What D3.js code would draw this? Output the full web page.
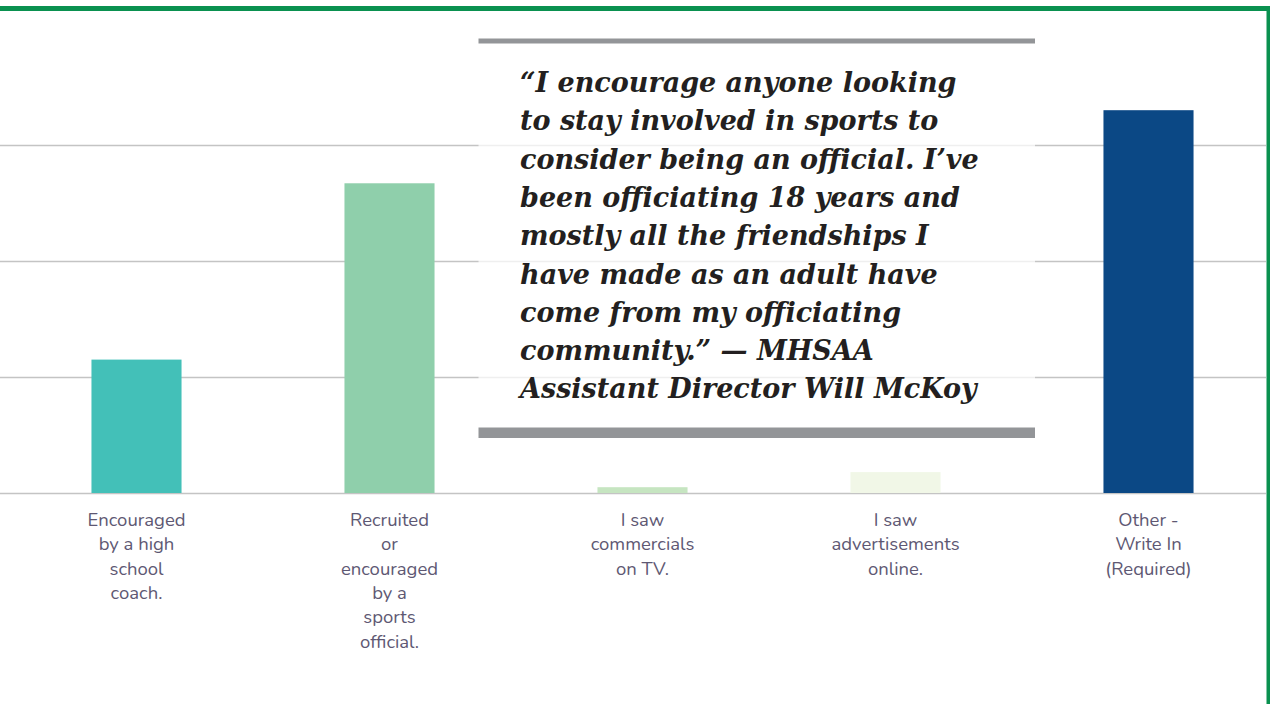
<!DOCTYPE html>
<html>
<head>
<meta charset="utf-8">
<script src="https://cdn.jsdelivr.net/npm/d3@7"></script>
<style>
  html, body { margin: 0; padding: 0; background: #fff; }
  svg { display: block; }
  .cat-label { font-family: Nunito, Lato, "Open Sans", sans-serif; font-size: 18.5px; fill: #5e5873; }
  .quote { font-family: "DejaVu Serif", serif; font-style: italic; font-weight: bold; font-size: 27px; fill: #231f20; }
</style>
</head>
<body>
<svg id="chart" width="1272" height="704"></svg>
<script>
// survey answers, left to right
const categories = ["coach", "official", "tv", "online", "other"];
const categoryLines = [
  ["Encouraged", "by a high", "school", "coach."],
  ["Recruited", "or", "encouraged", "by a", "sports", "official."],
  ["I saw", "commercials", "on TV."],
  ["I saw", "advertisements", "online."],
  ["Other -", "Write In", "(Required)"]
];
// share of responses (%)
const values = [11.5, 26.7, 0.5, 1.8, 33.0];
const gridTicks = [0, 10, 20, 30];

const quoteLines = [
  "\u201cI encourage anyone looking",
  "to stay involved in sports to",
  "consider being an official. I\u2019ve",
  "been officiating 18 years and",
  "mostly all the friendships I",
  "have made as an adult have",
  "come from my officiating",
  "community.\u201d \u2014 MHSAA",
  "Assistant Director Will McKoy"
];

const width = 1272, height = 704;
const svg = d3.select('svg#chart');

const xScale = d3.scaleBand()
  .domain(categories)
  .range([10, 1275])
  .paddingInner(0.644)
  .paddingOuter(0.322);

const yScale = d3.scaleLinear()
  .domain([0, 40])
  .range([493, 29]);

const colorScale = d3.scaleOrdinal()
  .domain(categories)
  .range(["#43c0b8", "#8fcfab", "#c6e5c1", "#f1f7e7", "#0b4885"]);

// gridlines (no tick labels in the original)
const yAxis = d3.axisLeft(yScale)
  .tickValues(gridTicks)
  .tickSize(-1266)
  .tickFormat('');

const yAxisG = svg.append('g')
  .attr('class', 'y-axis-g')
  .call(yAxis);
yAxisG.select('.domain').remove();
yAxisG.selectAll('.tick line')
  .attr('stroke', '#c4c4c4')
  .attr('stroke-width', 1.6);

// bars
svg.append('g').selectAll('rect')
  .data(categories)
  .enter()
  .append('rect')
  .attr('x', d => xScale(d))
  .attr('width', xScale.bandwidth())
  .attr('y', (d, i) => yScale(values[i]))
  .attr('height', (d, i) => yScale(0) - yScale(values[i]))
  .attr('fill', d => colorScale(d));

// wrapped category labels under the baseline
const labels = svg.append('g').selectAll('text')
  .data(categories)
  .enter()
  .append('text')
  .attr('class', 'cat-label')
  .attr('text-anchor', 'middle')
  .attr('x', d => xScale(d) + xScale.bandwidth() / 2)
  .attr('y', 526);
labels.each(function(d, i) {
  d3.select(this).selectAll('tspan')
    .data(categoryLines[i])
    .enter()
    .append('tspan')
    .attr('x', xScale(d) + xScale.bandwidth() / 2)
    .attr('y', (t, j) => 526 + j * 24.3)
    .text(t => t);
});

// pull quote laid over the chart
const quoteG = svg.append('g');
quoteG.append('rect')
  .attr('x', 478.5).attr('y', 43)
  .attr('width', 556.5).attr('height', 385)
  .attr('fill', '#fff').attr('opacity', 0.72);
quoteG.append('rect')
  .attr('x', 478.5).attr('y', 38.5)
  .attr('width', 556.5).attr('height', 5)
  .attr('fill', '#939598');
quoteG.append('rect')
  .attr('x', 478.5).attr('y', 427.5)
  .attr('width', 556.5).attr('height', 10.5)
  .attr('fill', '#939598');
quoteG.selectAll('text')
  .data(quoteLines)
  .enter()
  .append('text')
  .attr('class', 'quote')
  .attr('x', 520)
  .attr('y', (d, i) => 92 + i * 38.3)
  .text(d => d);

// green frame on top and right
svg.append('rect')
  .attr('x', 0).attr('y', 6)
  .attr('width', 1270).attr('height', 5)
  .attr('fill', '#0a9150');
svg.append('rect')
  .attr('x', 1266.5).attr('y', 6)
  .attr('width', 3.5).attr('height', height - 6)
  .attr('fill', '#0a9150');
</script>
</body>
</html>
